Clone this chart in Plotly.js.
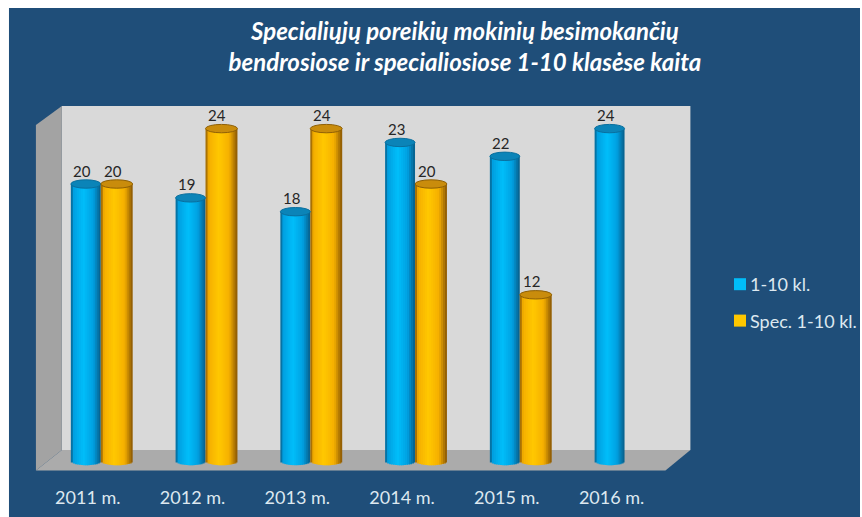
<!DOCTYPE html>
<html><head><meta charset="utf-8">
<script src="https://cdn.plot.ly/plotly-3.0.1.min.js"></script>
<style>html,body{margin:0;padding:0;background:#fff}</style></head>
<body><div id="chart" style="width:862px;height:517px"></div>
<script>
const categories = ["2011 m.","2012 m.","2013 m.","2014 m.","2015 m.","2016 m."];
const general = [20,19,18,23,22,24];
const special = [20,24,24,20,12,null];
const seriesNames = ["1-10 kl.","Spec. 1-10 kl."];
const titleText = "Specialiųjų poreikių mokinių besimokančių<br>bendrosiose ir specialiosiose 1-10 klasėse kaita";

const W=862,H=517,plotH=478,y0=461,unit=13.85,catStep=105,cat0=88;
const FONT='Lato, Carlito, sans-serif';
const xv=p=>(p-cat0)/catStep, yv=p=>(y0-p)/unit;
const pxP=p=>(p/W).toFixed(5), pyP=p=>(1-p/plotH).toFixed(5);
const poly=(pts,fill)=>({type:'path',xref:'paper',yref:'paper',layer:'below',line:{width:0},fillcolor:fill,
  path:'M'+pts.map(q=>pxP(q[0])+','+pyP(q[1])).join('L')+'Z'});

const mix=(a,b,t)=>a.map((v,i)=>Math.round(v+(b[i]-v)*t));
const rgb=c=>`rgb(${c[0]},${c[1]},${c[2]})`;
function shade(t,edge,mid,bright){
  if(t<0.10) return rgb(mix(edge,mid,t/0.10));
  if(t<0.42) return rgb(mix(mid,bright,(t-0.10)/0.32));
  if(t<0.75) return rgb(mix(bright,mid,(t-0.42)/0.33));
  return rgb(mix(mid,edge,(t-0.75)/0.25));
}
const capR=4.2/unit;
const traces=[],shapes=[],annotations=[];
function cylinder(vals,left,n,name,edge,mid,bright,capFill,capLine){
  const sw=2;
  for(let s=0;s<n;s++){
    const t=(s+0.5)/n, u=2*t-1, curve=capR*Math.sqrt(1-u*u);
    const legend=(s===Math.floor(n*0.42));
    traces.push({type:'bar',x:categories.map((_,i)=>i),y:vals.map(v=>v==null?null:v+curve),
      base:vals.map(()=>-curve),width:(s<n-1?sw+1:sw)/catStep,offset:(left+s*sw-cat0)/catStep,
      marker:{color:shade(t,edge,mid,bright),opacity:1,line:{width:0}},name:name,legendgroup:name,
      showlegend:legend,hoverinfo:'skip'});
  }
  vals.forEach((v,i)=>{ if(v==null) return;
    const a=(left-cat0)/catStep+i, b=a+n*sw/catStep;
    shapes.push({type:'circle',xref:'x',yref:'y',layer:'above',x0:a,x1:b,y0:v-capR,y1:v+capR,
      fillcolor:capFill,line:{color:capLine,width:1}});
  });
}
cylinder(general,71,15,seriesNames[0],[8,92,135],[0,160,225],[0,190,250],'#0b84b8','#0a6f9e');
cylinder(special,101,16,seriesNames[1],[135,85,5],[245,175,0],[255,200,0],'#c98c0c','#8f6006');

function labels(vals,shift){
  vals.forEach((v,i)=>{ if(v==null) return;
    annotations.push({x:i+shift/catStep,y:v,xref:'x',yref:'y',text:String(v),showarrow:false,
      xanchor:'center',yanchor:'bottom',yshift:2.5,font:{family:FONT,size:15,color:'#262626'}});
  });
}
labels(general,85-88-3);
labels(special,116-88-3);

const bgShapes=[
  {type:'rect',xref:'paper',yref:'paper',layer:'below',x0:9/W,x1:1,y0:1-H/plotH,y1:1-8/plotH,fillcolor:'#1f4e79',line:{width:0}},
  poly([[62,106],[692,106],[692,450],[62,450]],'#d9d9d9'),
  poly([[36,125],[62,106],[62,450],[36,470.5]],'#a3a3a3'),
  poly([[36,470.5],[62,450],[692,450],[667,470.5]],'#ababab')
];

Plotly.newPlot('chart',traces,{
  width:W,height:H,autosize:false,barmode:'overlay',showlegend:true,
  margin:{l:0,r:0,t:0,b:H-plotH,pad:0},
  paper_bgcolor:'#ffffff',plot_bgcolor:'rgba(0,0,0,0)',
  title:{text:titleText,font:{family:FONT,size:24,color:'#ffffff',weight:700,style:'italic'},
    x:466/W,xanchor:'center',xref:'paper',y:1-40/H,yanchor:'top',automargin:false},
  xaxis:{range:[xv(0),xv(W)],tickmode:'array',tickvals:categories.map((_,i)=>i),ticktext:categories,
    showgrid:false,zeroline:false,showline:false,ticks:'',fixedrange:true,ticklabelstandoff:7,
    tickfont:{family:FONT,size:18,color:'#dde8f0'},automargin:false},
  yaxis:{range:[yv(plotH),yv(0)],visible:false,showgrid:false,zeroline:false,fixedrange:true,automargin:false},
  legend:{x:712/W,y:1-266/plotH,xanchor:'left',yanchor:'top',bgcolor:'rgba(0,0,0,0)',traceorder:'grouped',
    tracegroupgap:10,font:{family:FONT,size:18,color:'#dde8f0'},itemclick:false,itemdoubleclick:false},
  annotations:annotations,
  shapes:bgShapes.concat(shapes)
},{displayModeBar:false,staticPlot:true}).then(()=>{
  document.querySelectorAll('.legend .legendpoints').forEach(g=>g.setAttribute('transform','translate(10,0)'));
});
</script></body></html>
